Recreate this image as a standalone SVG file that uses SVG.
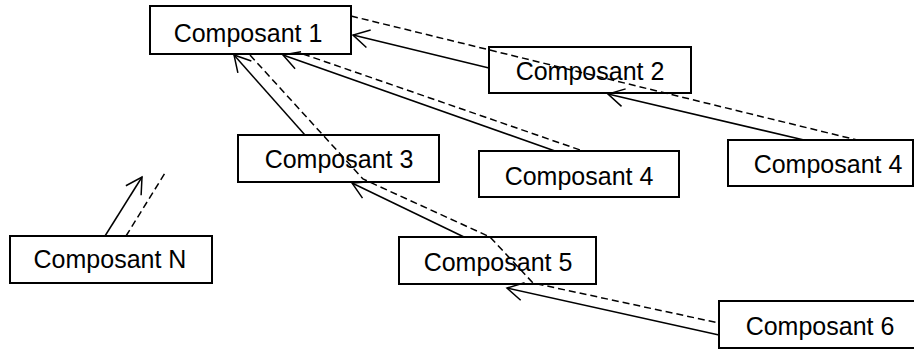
<svg xmlns="http://www.w3.org/2000/svg" width="914" height="349" viewBox="0 0 914 349">
<style>
.box{fill:#fff;stroke:#000;stroke-width:2}
.lbl{font-family:"Liberation Sans",Arial,sans-serif;font-size:25px;fill:#000;text-anchor:middle}
.solid{fill:none;stroke:#000;stroke-width:1.5}
.dash{fill:none;stroke:#000;stroke-width:1.5;stroke-dasharray:7 4}
</style>
<defs>
<marker id="open" markerUnits="userSpaceOnUse" orient="auto" refX="0" refY="0" markerWidth="20" markerHeight="20" viewBox="-18 -10 20 20" overflow="visible">
<path d="M-16,-9 L0,0 L-16,9" fill="none" stroke="#000" stroke-width="1.5"/>
</marker>
</defs>
<rect width="914" height="349" fill="#fff"/>
<g id="c1"><rect class="box" x="150" y="6" width="201" height="48"/><text class="lbl" x="248" y="42">Composant 1</text></g>
<g id="c2"><rect class="box" x="489" y="47" width="202" height="46"/><text class="lbl" x="590" y="80">Composant 2</text></g>
<g id="c3"><rect class="box" x="238" y="135" width="201" height="47"/><text class="lbl" x="339" y="168">Composant 3</text></g>
<g id="c4a"><rect class="box" x="479" y="151" width="200" height="46"/><text class="lbl" x="579" y="185">Composant 4</text></g>
<g id="c4b"><rect class="box" x="728" y="140" width="185" height="46"/><text class="lbl" x="828" y="173">Composant 4</text></g>
<g id="c5"><rect class="box" x="399" y="237" width="197" height="47"/><text class="lbl" x="498" y="271">Composant 5</text></g>
<g id="c6"><rect class="box" x="719" y="301" width="200" height="47"/><text class="lbl" x="820" y="335">Composant 6</text></g>
<g id="cn"><rect class="box" x="10" y="236" width="202" height="47"/><text class="lbl" x="110" y="268">Composant N</text></g>
<g id="connectors">
<line class="solid" x1="489" y1="68" x2="353" y2="35" marker-end="url(#open)"/>
<line class="solid" x1="804" y1="140" x2="608" y2="94" marker-end="url(#open)"/>
<line class="solid" x1="555" y1="151" x2="283" y2="55" marker-end="url(#open)"/>
<line class="solid" x1="305" y1="135" x2="234" y2="55" marker-end="url(#open)"/>
<line class="solid" x1="464" y1="237" x2="352" y2="183" marker-end="url(#open)"/>
<line class="solid" x1="719" y1="335" x2="507" y2="288" marker-end="url(#open)"/>
<line class="solid" x1="105" y1="236" x2="142" y2="177" marker-end="url(#open)"/>
<line class="dash" x1="351" y1="16" x2="857" y2="140"/>
<line class="dash" x1="303" y1="54" x2="583" y2="151"/>
<polyline class="dash" points="250,55 363,179 490,237 533,283 719,323"/>
<line class="dash" x1="126" y1="236" x2="165" y2="173"/>
</g>
</svg>
